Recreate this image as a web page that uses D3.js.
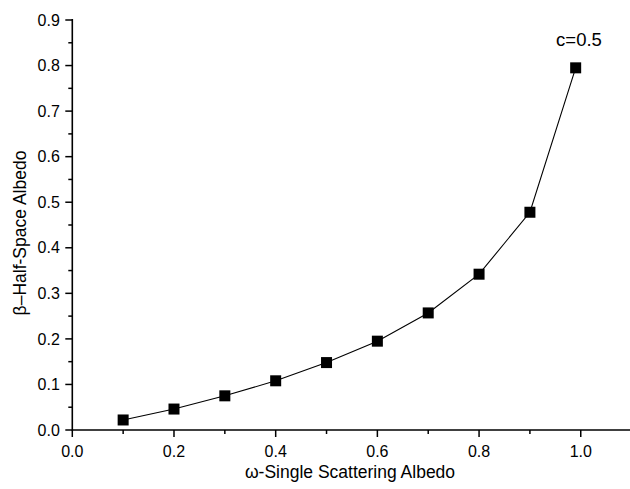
<!DOCTYPE html>
<html>
<head>
<meta charset="utf-8">
<script src="https://cdn.jsdelivr.net/npm/d3@7"></script>
<style>
  body { margin: 0; background: #fff; }
  text { font-family: "Liberation Sans", Arial, sans-serif; fill: #000; }
</style>
</head>
<body>
<div id="chart"></div>
<script>
// data
var omega = [0.1, 0.2, 0.3, 0.4, 0.5, 0.6, 0.7, 0.8, 0.9, 0.99];
var beta = [0.022, 0.046, 0.075, 0.108, 0.148, 0.195, 0.257, 0.342, 0.478, 0.795];
var xTicks = [0.0, 0.2, 0.4, 0.6, 0.8, 1.0];
var yTicks = [0.0, 0.1, 0.2, 0.3, 0.4, 0.5, 0.6, 0.7, 0.8, 0.9];
var seriesLabel = "c=0.5";

var width = 630, height = 489;
var svg = d3.select("#chart").append("svg")
    .attr("width", width)
    .attr("height", height);

var x = d3.scaleLinear().domain([0, 1.1]).range([72.3, 631.6]);
var y = d3.scaleLinear().domain([0, 0.9]).range([430, 20]);

// minor ticks
var xMinor = d3.range(0.1, 1.1, 0.2);
var yMinor = d3.range(0.05, 0.9, 0.1);

var gx = svg.append("g").attr("transform", "translate(0,430)");
gx.append("line").attr("x1", 72.3).attr("x2", width).attr("stroke", "#000").attr("stroke-width", 1.6);
gx.selectAll(".maj").data(xTicks).enter().append("line")
    .attr("x1", function(d){ return x(d); }).attr("x2", function(d){ return x(d); })
    .attr("y1", 0).attr("y2", 7).attr("stroke", "#000").attr("stroke-width", 1.5);
gx.selectAll(".min").data(xMinor).enter().append("line")
    .attr("x1", function(d){ return x(d); }).attr("x2", function(d){ return x(d); })
    .attr("y1", 0).attr("y2", 4).attr("stroke", "#000").attr("stroke-width", 1.5);
gx.selectAll("text").data(xTicks).enter().append("text")
    .attr("x", function(d){ return x(d); })
    .attr("y", 27)
    .attr("text-anchor", "middle")
    .style("font-size", "16px")
    .text(function(d){ return d.toFixed(1); });

var gy = svg.append("g").attr("transform", "translate(72.3,0)");
gy.append("line").attr("y1", 19).attr("y2", 430.8).attr("stroke", "#000").attr("stroke-width", 1.6);
gy.selectAll(".maj").data(yTicks).enter().append("line")
    .attr("y1", function(d){ return y(d); }).attr("y2", function(d){ return y(d); })
    .attr("x1", 0).attr("x2", -7).attr("stroke", "#000").attr("stroke-width", 1.5);
gy.selectAll(".min").data(yMinor).enter().append("line")
    .attr("y1", function(d){ return y(d); }).attr("y2", function(d){ return y(d); })
    .attr("x1", 0).attr("x2", -4).attr("stroke", "#000").attr("stroke-width", 1.5);
gy.selectAll("text").data(yTicks).enter().append("text")
    .attr("x", -12.5)
    .attr("y", function(d){ return y(d) + 5.7; })
    .attr("text-anchor", "end")
    .style("font-size", "16px")
    .text(function(d){ return d.toFixed(1); });

// axis titles
svg.append("text")
    .attr("x", 350).attr("y", 478)
    .attr("text-anchor", "middle")
    .style("font-size", "17.5px")
    .text("\u03c9-Single Scattering Albedo");
svg.append("text")
    .attr("transform", "translate(26,233) rotate(-90)")
    .attr("text-anchor", "middle")
    .style("font-size", "17.5px")
    .text("\u03b2\u2013Half-Space Albedo");

// series
var pts = omega.map(function(d, i){ return [d, beta[i]]; });
var line = d3.line().x(function(d){ return x(d[0]); }).y(function(d){ return y(d[1]); });
svg.append("path").datum(pts)
    .attr("d", line)
    .attr("fill", "none")
    .attr("stroke", "#000")
    .attr("stroke-width", 1.1);
svg.selectAll(".pt").data(pts).enter().append("rect")
    .attr("x", function(d){ return x(d[0]) - 5.5; })
    .attr("y", function(d){ return y(d[1]) - 5.5; })
    .attr("width", 11).attr("height", 11)
    .attr("fill", "#000");

svg.append("text")
    .attr("x", 579).attr("y", 46)
    .attr("text-anchor", "middle")
    .style("font-size", "18.5px")
    .text(seriesLabel);
</script>
</body>
</html>
